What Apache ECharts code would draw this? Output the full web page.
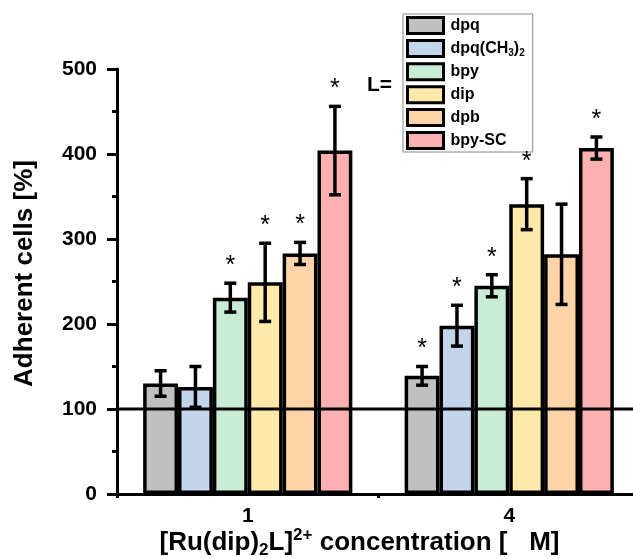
<!DOCTYPE html>
<html>
<head>
<meta charset="utf-8">
<script src="https://cdn.jsdelivr.net/npm/echarts@6/dist/echarts.min.js"></script>
<style>
html, body { margin: 0; padding: 0; background: #fff; }
#chart { width: 633px; height: 559px; }
</style>
</head>
<body>
<div id="chart"></div>
<script>
// concentrations (µM) on the x axis
var concentrations = ['1', '4'];
// ligands L
var ligands = ['dpq', 'dpq(CH3)2', 'bpy', 'dip', 'dpb', 'bpy-SC'];
var ligandColors = ['#c0c0c0', '#c3d5ea', '#c8ecd6', '#fee9ab', '#fed4a8', '#feb1b1'];
// adherent cells [%], one row per ligand: [1 µM, 4 µM]
var means = [
    [130, 139],
    [126, 198],
    [231, 245],
    [249, 341],
    [283, 282],
    [404, 407]
];
var errors = [
    [15, 11],
    [24, 24],
    [17, 13],
    [46, 30],
    [13, 59],
    [52, 13]
];
// significance marks (*)
var stars = [
    [0, 1],
    [0, 1],
    [1, 1],
    [1, 1],
    [1, 0],
    [1, 1]
];
var controlLevel = 100;

var FONT = '"Liberation Sans", Arial, sans-serif';

var chart = echarts.init(document.getElementById('chart'));

// bars
var series = ligands.map(function (name, k) {
    return {
        type: 'bar',
        name: name,
        data: means[k],
        barGap: '0%',
        barCategoryGap: '20%',
        itemStyle: {
            color: ligandColors[k],
            borderColor: '#000',
            borderWidth: 3.5
        }
    };
});

// error bars + stars
var errData = [];
ligands.forEach(function (name, k) {
    concentrations.forEach(function (c, g) {
        errData.push([g, means[k][g], errors[k][g], stars[k][g], k]);
    });
});

series.push({
    type: 'custom',
    name: 'err',
    data: errData,
    encode: { x: 0, y: 1 },
    z: 4,
    silent: true,
    renderItem: function (params, api) {
        var g = api.value(0), m = api.value(1), e = api.value(2);
        var s = api.value(3), k = api.value(4);
        var bandW = api.size([1, 0])[0];
        var barW = bandW * 0.8 / ligands.length;
        var x = api.coord([g, m])[0] + (k - (ligands.length - 1) / 2) * barW;
        var yt = api.coord([g, m + e])[1];
        var yb = api.coord([g, m - e])[1];
        var cap = 6;
        var st = { stroke: '#000', lineWidth: 3.5 };
        var children = [
            { type: 'line', shape: { x1: x, y1: yt, x2: x, y2: yb }, style: st },
            { type: 'line', shape: { x1: x - cap, y1: yt, x2: x + cap, y2: yt }, style: st },
            { type: 'line', shape: { x1: x - cap, y1: yb, x2: x + cap, y2: yb }, style: st }
        ];
        if (s) {
            children.push({
                type: 'text',
                x: x,
                y: yt - 17,
                style: {
                    text: '*',
                    fill: '#000',
                    font: '25px ' + FONT,
                    align: 'center',
                    verticalAlign: 'middle'
                }
            });
        }
        return { type: 'group', children: children };
    }
});

// 100 % control line
series.push({
    type: 'line',
    name: 'control',
    xAxisIndex: 1,
    data: [[0, controlLevel], [2, controlLevel]],
    symbol: 'none',
    silent: true,
    z: 5,
    lineStyle: { color: '#000', width: 3 }
});

var option = {
    animation: false,
    backgroundColor: '#fff',
    textStyle: { fontFamily: FONT },
    grid: { left: 117, right: -7, top: 69, bottom: 65, outerBoundsMode: 'none', containLabel: false },
    legend: {
        data: ligands,
        orient: 'vertical',
        left: 403,
        top: 14,
        padding: [2, 8, 2, 3],
        itemGap: 3.9,
        itemWidth: 36,
        itemHeight: 16,
        icon: 'rect',
        backgroundColor: '#fff',
        borderColor: '#888',
        borderWidth: 1,
        borderRadius: 0,
        itemStyle: { borderColor: '#000', borderWidth: 3 },
        formatter: function (name) {
            if (name === 'dpq(CH3)2') return 'dpq(CH{sub|3})' + '{sub|2}';
            return name;
        },
        textStyle: {
            fontFamily: FONT,
            fontSize: 16,
            fontWeight: 'bold',
            color: '#000',
            lineHeight: 18,
            padding: [0, 0, 0, 2],
            rich: {
                sub: {
                    fontFamily: FONT,
                    fontSize: 10,
                    fontWeight: 'bold',
                    color: '#000',
                    padding: [10, 0, 0, 0]
                }
            }
        }
    },
    graphic: [{
        type: 'text',
        left: 367,
        top: 75,
        style: {
            text: 'L=',
            font: 'bold 21px ' + FONT,
            fill: '#000'
        }
    }],
    xAxis: [{
        type: 'category',
        data: concentrations,
        name: '[Ru(dip){sub|2}L]{sup|2+} concentration [   M]',
        nameLocation: 'middle',
        nameGap: 33,
        nameMoveOverlap: false,
        nameTextStyle: {
            fontFamily: FONT,
            fontSize: 26,
            fontWeight: 'bold',
            color: '#000',
            padding: [0, 38, 0, 0],
            rich: {
                sub: { fontFamily: FONT, fontSize: 17, fontWeight: 'bold', color: '#000', padding: [15, 0, 0, 0] },
                sup: { fontFamily: FONT, fontSize: 17, fontWeight: 'bold', color: '#000', padding: [0, 0, 15, 0] }
            }
        },
        axisLine: { lineStyle: { color: '#000', width: 3 } },
        axisTick: { alignWithLabel: true, length: 8, lineStyle: { color: '#000', width: 3 } },
        axisLabel: { color: '#000', fontSize: 21, fontWeight: 'bold', margin: 12 },
        splitLine: { show: false }
    }, {
        type: 'value',
        min: 0,
        max: 2,
        interval: 1,
        position: 'bottom',
        axisLine: { show: false },
        axisTick: { show: true, length: 4, lineStyle: { color: '#000', width: 3 } },
        axisLabel: { show: false },
        splitLine: { show: false }
    }],
    yAxis: {
        type: 'value',
        min: 0,
        max: 500,
        interval: 100,
        name: 'Adherent cells [%]',
        nameLocation: 'middle',
        nameGap: 79,
        nameMoveOverlap: false,
        nameTextStyle: {
            fontFamily: FONT, fontSize: 26, fontWeight: 'bold', color: '#000',
            padding: [0, 0, 0, 16]
        },
        axisLine: { show: true, lineStyle: { color: '#000', width: 3 } },
        axisTick: { show: true, length: 10, lineStyle: { color: '#000', width: 3 } },
        minorTick: { show: true, splitNumber: 2, length: 5, lineStyle: { color: '#000', width: 3 } },
        axisLabel: { color: '#000', fontSize: 21, fontWeight: 'bold', margin: 20 },
        splitLine: { show: false }
    },
    series: series
};

chart.setOption(option);

window.addEventListener('resize', function () {
    chart.resize();
});
</script>
</body>
</html>
